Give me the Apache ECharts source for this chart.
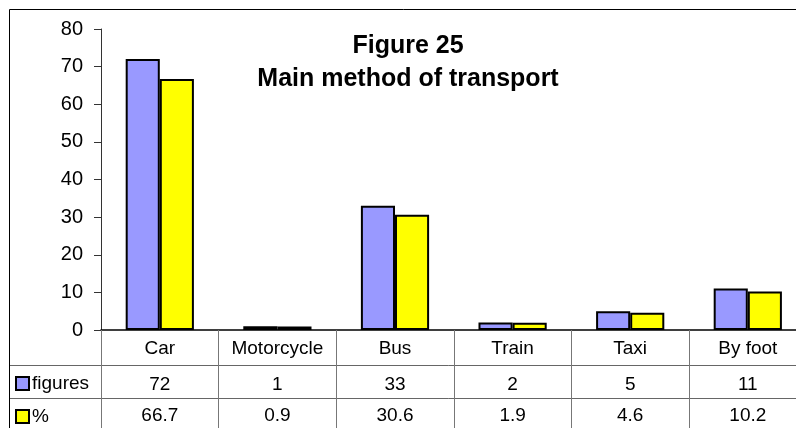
<!DOCTYPE html>
<html>
<head>
<meta charset="utf-8">
<script src="https://cdn.jsdelivr.net/npm/echarts@6/dist/echarts.min.js"></script>
<style>
html,body{margin:0;padding:0;background:#fff;}
#chart{width:796px;height:428px;}
</style>
</head>
<body>
<div id="chart"></div>
<script>
var categories = ['Car', 'Motorcycle', 'Bus', 'Train', 'Taxi', 'By foot'];
var figures = [72, 1, 33, 2, 5, 11];
var percent = [66.7, 0.9, 30.6, 1.9, 4.6, 10.2];
var percentLabels = ['66.7', '0.9', '30.6', '1.9', '4.6', '10.2'];
var yTicks = [0, 10, 20, 30, 40, 50, 60, 70, 80];
var titleText = 'Figure 25\nMain method of transport';

var FONT = '"Liberation Sans", Arial, sans-serif';
var chart = echarts.init(document.getElementById('chart'), null, {renderer: 'canvas'});

var option = {
  animation: false,
  backgroundColor: '#ffffff',
  textStyle: {fontFamily: FONT, color: '#000'},
  title: {
    text: titleText,
    left: 408, top: 30, padding: 0,
    textAlign: 'center',
    textStyle: {fontFamily: FONT, fontSize: 25, fontWeight: 'bold', color: '#000', lineHeight: 33}
  },
  legend: [
    {
      data: ['figures'], orient: 'vertical', left: 15, top: 374, padding: 0,
      icon: 'rect', itemWidth: 13, itemHeight: 13, itemGap: 0,
      selectedMode: false,
      itemStyle: {borderColor: '#000', borderWidth: 2},
      textStyle: {fontFamily: FONT, fontSize: 19, color: '#000', padding: [0, 0, 0, -2]}
    },
    {
      data: ['%'], orient: 'vertical', left: 15, top: 407, padding: 0,
      icon: 'rect', itemWidth: 13, itemHeight: 13, itemGap: 0,
      selectedMode: false,
      itemStyle: {borderColor: '#000', borderWidth: 2},
      textStyle: {fontFamily: FONT, fontSize: 19, color: '#000', padding: [0, 0, 0, -2]}
    }
  ],
  grid: {left: 101, top: 29, width: 705.6, height: 301, containLabel: false, outerBoundsMode: 'none'},
  xAxis: [
    {
      type: 'category', data: categories, position: 'bottom',
      axisLine: {show: true, lineStyle: {color: '#000', width: 1.5}},
      axisTick: {show: true, alignWithLabel: false, length: 100, lineStyle: {color: '#777', width: 1}},
      axisLabel: {interval: 0, fontFamily: FONT, fontSize: 19, color: '#000', margin: 9}
    },
    {
      type: 'category', data: categories, position: 'bottom', offset: 35,
      axisLine: {show: true, lineStyle: {color: '#666', width: 1}},
      axisTick: {show: false},
      axisLabel: {interval: 0, fontFamily: FONT, fontSize: 19, color: '#000', margin: 10,
        formatter: function (v, i) { return String(figures[i]); }}
    },
    {
      type: 'category', data: categories, position: 'bottom', offset: 68,
      axisLine: {show: true, lineStyle: {color: '#666', width: 1}},
      axisTick: {show: false},
      axisLabel: {interval: 0, fontFamily: FONT, fontSize: 19, color: '#000', margin: 8,
        formatter: function (v, i) { return percentLabels[i]; }}
    }
  ],
  yAxis: {
    type: 'value', min: yTicks[0], max: yTicks[yTicks.length - 1], interval: 10,
    axisLine: {show: true, lineStyle: {color: '#333', width: 1}},
    axisTick: {show: true, length: 7, lineStyle: {color: '#333'}},
    axisLabel: {fontFamily: FONT, fontSize: 20, color: '#000', margin: 18},
    splitLine: {show: false}
  },
  graphic: [
    {type: 'rect', shape: {x: 9.5, y: 9.5, width: 820, height: 440}, style: {fill: 'none', stroke: '#000', lineWidth: 1}, silent: true, z: 100},
    {type: 'line', shape: {x1: 9, y1: 365.5, x2: 101, y2: 365.5}, style: {stroke: '#666', lineWidth: 1}, silent: true},
    {type: 'line', shape: {x1: 9, y1: 398.5, x2: 101, y2: 398.5}, style: {stroke: '#666', lineWidth: 1}, silent: true}
  ],
  series: [
    {
      name: 'figures', type: 'bar', data: figures, xAxisIndex: 0,
      barGap: '0%', barCategoryGap: '42%',
      itemStyle: {color: '#9999FF', borderColor: '#000', borderWidth: 2}
    },
    {
      name: '%', type: 'bar', data: percent, xAxisIndex: 0,
      barGap: '0%', barCategoryGap: '42%',
      itemStyle: {color: '#FFFF00', borderColor: '#000', borderWidth: 2}
    }
  ]
};
chart.setOption(option);
</script>
</body>
</html>
